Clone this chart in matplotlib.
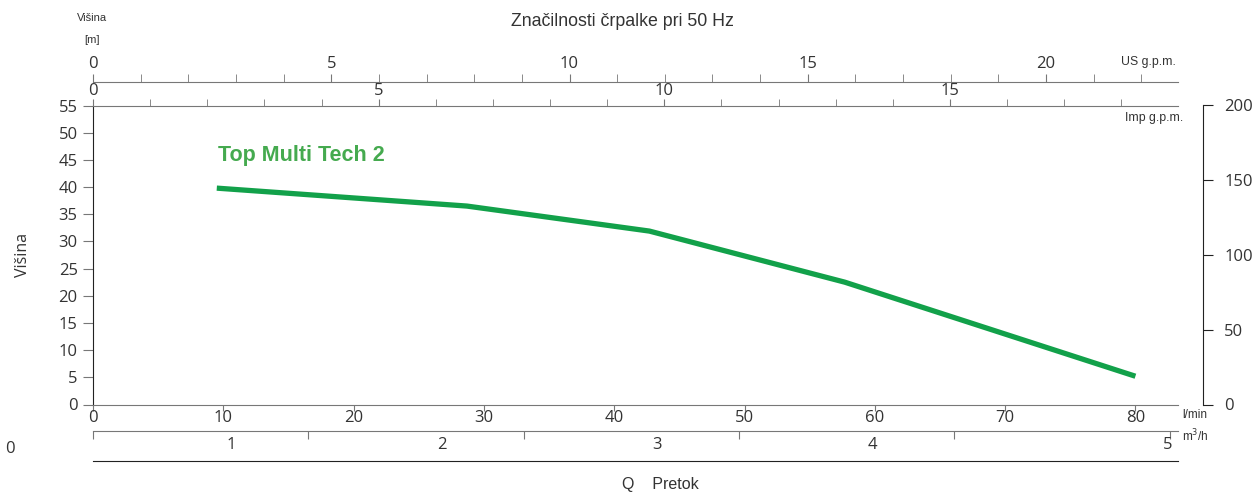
import matplotlib.pyplot as plt
import numpy as np

plt.rcParams['font.family'] = ['Open Sans', 'DejaVu Sans']

# data
q_lmin = [9.5, 28.7, 42.7, 57.7, 80.0]
h_m = [39.8, 36.5, 31.9, 22.5, 5.2]
curve_name = 'Top Multi Tech 2'

h_ticks = list(range(0, 56, 5))
lmin_ticks = [0, 10, 20, 30, 40, 50, 60, 70, 80]
imp_ticks = list(range(0, 19))
imp_labels = [0, 5, 10, 15]
us_ticks = list(range(0, 23))
us_labels = [0, 5, 10, 15, 20]
m3h_ticks = [0, 1, 2, 3, 4, 5]
m3h_labels = ['1', '2', '3', '4', '5']
m3h_label_pos = [0.64, 1.62, 2.62, 3.62, 4.99]
right_ticks = [0, 50, 100, 150, 200]

W, H = 1255, 493
fig = plt.figure(figsize=(W / 100, H / 100), dpi=100)

def rect(x0, y0, x1, y1):
    # pixel box -> figure fraction
    return [x0 / W, 1 - y1 / H, (x1 - x0) / W, (y1 - y0) / H]

txt = '#333333'
grey = '#777777'
green = '#12A14A'

# main plot
ax = fig.add_axes(rect(93, 105.5, 1178, 404.5))
ax.plot(q_lmin, h_m, color=green, lw=3.8, solid_capstyle='butt')
ax.set_xlim(0, 1085 / 13.03)
ax.set_ylim(0, 55)
ax.set_yticks(h_ticks)
ax.set_xticks(lmin_ticks)
ax.tick_params(axis='y', direction='out', length=7, color=grey, labelsize=12,
               labelcolor=txt, pad=4)
ax.tick_params(axis='x', direction='out', length=4, color=grey, labelsize=12,
               labelcolor=txt, pad=0)
ax.spines['right'].set_visible(False)
ax.spines['left'].set_color('#222222')
ax.spines['bottom'].set_color(grey)
ax.spines['top'].set_color(grey)
fig.text(218 / W, 1 - 156 / H, curve_name, color='#45AA4F', fontsize=15.5,
         fontweight='bold', family='Liberation Sans', va='center')
ax.set_ylabel('Višina', fontsize=11.5, color=txt, labelpad=20)

# Imp g.p.m. scale on the top edge
imp = ax.twiny()
imp.set_xlim(0, 1085 / 57.13)
imp.set_xticks(imp_labels)
imp.set_xticks(imp_ticks, minor=True)
imp.tick_params(which='both', direction='out', length=5, color=grey,
                labelsize=12, labelcolor=txt, pad=0)
for s in imp.spines.values():
    s.set_visible(False)

# US g.p.m. scale
us = fig.add_axes(rect(93, 81.5, 1178, 82))
us.set_xlim(0, 1085 / 47.65)
us.set_yticks([])
us.xaxis.tick_top()
us.set_xticks(us_labels)
us.set_xticks(us_ticks, minor=True)
us.tick_params(which='both', direction='out', length=6, color=grey,
               labelsize=12, labelcolor=txt, pad=1)
for k, s in us.spines.items():
    s.set_visible(k == 'top')
us.spines['top'].set_color(grey)

# m3/h scale
m3 = fig.add_axes(rect(93, 430.5, 1178, 431))
m3.set_xlim(0, 1085 / 215.3)
m3.set_yticks([])
m3.set_xticks(m3h_ticks, labels=[])
m3.set_xticks(m3h_label_pos, labels=m3h_labels, minor=True)
m3.xaxis.remove_overlapping_locs = False
m3.tick_params(which='major', direction='out', length=6, color=grey)
m3.tick_params(which='minor', length=0, labelsize=12, labelcolor=txt, pad=4)
for k, s in m3.spines.items():
    s.set_visible(k == 'top')
m3.spines['top'].set_color(grey)

# closing line under the m3/h labels
bl = fig.add_axes(rect(93, 460.5, 1178, 461))
bl.set_xticks([])
bl.set_yticks([])
for k, s in bl.spines.items():
    s.set_visible(k == 'top')
bl.spines['top'].set_color('#222222')

# right scale
rt = fig.add_axes(rect(1203, 105, 1203.5, 404.5))
rt.set_ylim(0, 200)
rt.set_xticks([])
rt.set_yticks(right_ticks)
rt.tick_params(axis='y', left=True, right=False, labelleft=False,
               labelright=True, direction='in', length=7, color='#222222',
               labelsize=12, labelcolor=txt, pad=15)
for k, s in rt.spines.items():
    s.set_visible(k == 'left')
rt.spines['left'].set_color('#222222')

# texts
fig.text(622 / W, 1 - 22 / H, 'Značilnosti črpalke pri 50 Hz', ha='center',
         va='center', fontsize=12.8, color=txt, family='Liberation Sans')
fig.text(92 / W, 1 - 18 / H, 'Višina', ha='center', va='center', fontsize=8,
         color=txt, family='Liberation Sans')
fig.text(92 / W, 1 - 40 / H, '[m]', ha='center', va='center', fontsize=8,
         color=txt, family='Liberation Sans')
fig.text(1176 / W, 1 - 62 / H, 'US g.p.m.', ha='right', va='center',
         fontsize=8.8, color=txt, family='Liberation Sans')
fig.text(1183 / W, 1 - 118 / H, 'Imp g.p.m.', ha='right', va='center',
         fontsize=8.8, color=txt, family='Liberation Sans')
fig.text(1182 / W, 1 - 415 / H, 'l/min', ha='left', va='center', fontsize=8.5,
         color=txt, family='Liberation Sans')
fig.text(1182 / W, 1 - 436 / H, 'm$^3$/h', ha='left', va='center',
         fontsize=8.5, color=txt, family='Liberation Sans')
fig.text(10 / W, 1 - 449 / H, '0', ha='center', va='center', fontsize=12,
         color=txt)
fig.text(660 / W, 1 - 484 / H, 'Q    Pretok', ha='center', va='center',
         fontsize=11.5, color=txt, family='Liberation Sans')

fig.savefig('out.png', dpi=100)
